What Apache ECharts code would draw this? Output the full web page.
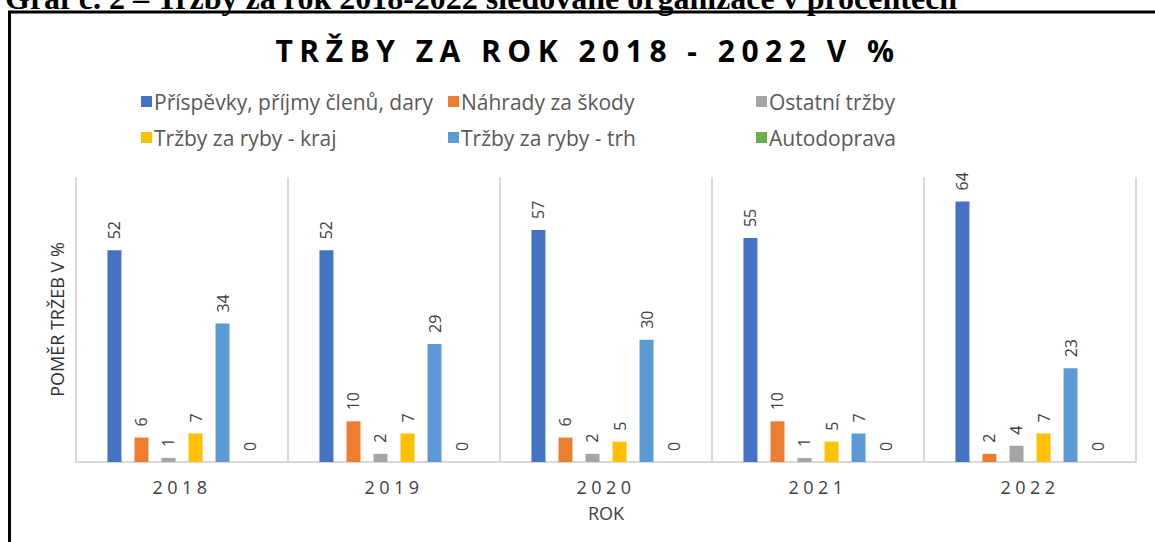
<!DOCTYPE html>
<html>
<head>
<meta charset="utf-8">
<script src="https://cdn.jsdelivr.net/npm/echarts@6/dist/echarts.min.js"></script>
<style>
html,body{margin:0;padding:0;background:#fff;}
#chart{width:1155px;height:542px;}
</style>
</head>
<body>
<div id="chart"></div>
<script>
const caption = 'Graf č. 2 – Tržby za rok 2018-2022 sledované organizace v procentech';
const chartTitle = 'TRŽBY ZA ROK 2018 - 2022 V %';
const yAxisName = 'POMĚR TRŽEB V %';
const xAxisName = 'ROK';
const years = ['2018', '2019', '2020', '2021', '2022'];
const seriesNames = [
  'Příspěvky, příjmy členů, dary',
  'Náhrady za škody',
  'Ostatní tržby',
  'Tržby za ryby - kraj',
  'Tržby za ryby - trh',
  'Autodoprava'
];
const prispevky = [52, 52, 57, 55, 64];
const nahrady = [6, 10, 6, 10, 2];
const ostatni = [1, 2, 2, 1, 4];
const rybyKraj = [7, 7, 5, 5, 7];
const rybyTrh = [34, 29, 30, 7, 23];
const autodoprava = [0, 0, 0, 0, 0];

const seriesValues = [prispevky, nahrady, ostatni, rybyKraj, rybyTrh, autodoprava];
const colors = ['#4472C4', '#ED7D31', '#A5A5A5', '#FFC000', '#5B9BD5', '#70AD47'];
const FONT = 'Open Sans';

const chart = echarts.init(document.getElementById('chart'), null, {renderer: 'svg'});

function legendCol(left, names) {
  return {
    orient: 'vertical', left: left, top: 86, itemGap: 15,
    itemWidth: 11, itemHeight: 11, icon: 'rect',
    data: names,
    textStyle: {fontFamily: FONT, fontSize: 21, color: '#595959', padding: [0, 0, 0, -3]}
  };
}

const option = {
  animation: false,
  color: colors,
  graphic: [
    {type: 'text', left: 5, top: -18, silent: true,
      style: {text: caption, font: 'bold 32px "Liberation Serif"', fill: '#000'}},
    {type: 'line', silent: true, shape: {x1: 8, y1: 12, x2: 1155, y2: 12},
      style: {stroke: '#000', lineWidth: 3}},
    {type: 'line', silent: true, shape: {x1: 9.5, y1: 11, x2: 9.5, y2: 542},
      style: {stroke: '#000', lineWidth: 3}},
    {type: 'text', id: 'mainTitle', x: 588, y: 50, silent: true,
      style: {text: chartTitle, font: 'bold 30px "Open Sans"', fill: '#000',
        align: 'center', verticalAlign: 'middle'}}
  ],
  legend: [
    legendCol(136, [seriesNames[0], seriesNames[3]]),
    legendCol(443, [seriesNames[1], seriesNames[4]]),
    legendCol(751, [seriesNames[2], seriesNames[5]])
  ],
  grid: {left: 76, right: 19, top: 177, bottom: 80},
  xAxis: {
    type: 'category', data: years,
    name: xAxisName, nameLocation: 'middle', nameGap: 42,
    nameTextStyle: {fontFamily: FONT, fontSize: 18, color: '#404040'},
    axisLine: {lineStyle: {color: '#d9d9d9', width: 2}},
    axisTick: {show: false},
    axisLabel: {fontFamily: FONT, fontSize: 18, color: '#404040', margin: 16},
    splitLine: {show: true, lineStyle: {color: '#d9d9d9', width: 2}}
  },
  yAxis: {
    type: 'value', min: 0, max: 70,
    name: yAxisName, nameLocation: 'middle', nameGap: 10,
    nameTextStyle: {fontFamily: FONT, fontSize: 18, color: '#333333'},
    axisLine: {show: false}, axisTick: {show: false},
    axisLabel: {show: false}, splitLine: {show: false}
  },
  series: seriesNames.map((name, i) => ({
    name: name, type: 'bar', data: seriesValues[i],
    barWidth: 14, barGap: '93%',
    itemStyle: {color: colors[i]},
    label: {show: true, position: 'top', rotate: 90, distance: 11,
      align: 'left', verticalAlign: 'middle',
      fontFamily: FONT, fontSize: 16, color: '#404040'}
  }))
};
chart.setOption(option);

function applySpacing() {
  const texts = document.querySelectorAll('#chart svg text');
  texts.forEach(t => {
    const s = t.textContent;
    if (s === chartTitle) t.setAttribute('letter-spacing', '6.5');
    else if (years.indexOf(s) >= 0) t.setAttribute('letter-spacing', '4.5');
  });
}
chart.on('finished', applySpacing);
setTimeout(applySpacing, 50);
</script>
</body>
</html>
